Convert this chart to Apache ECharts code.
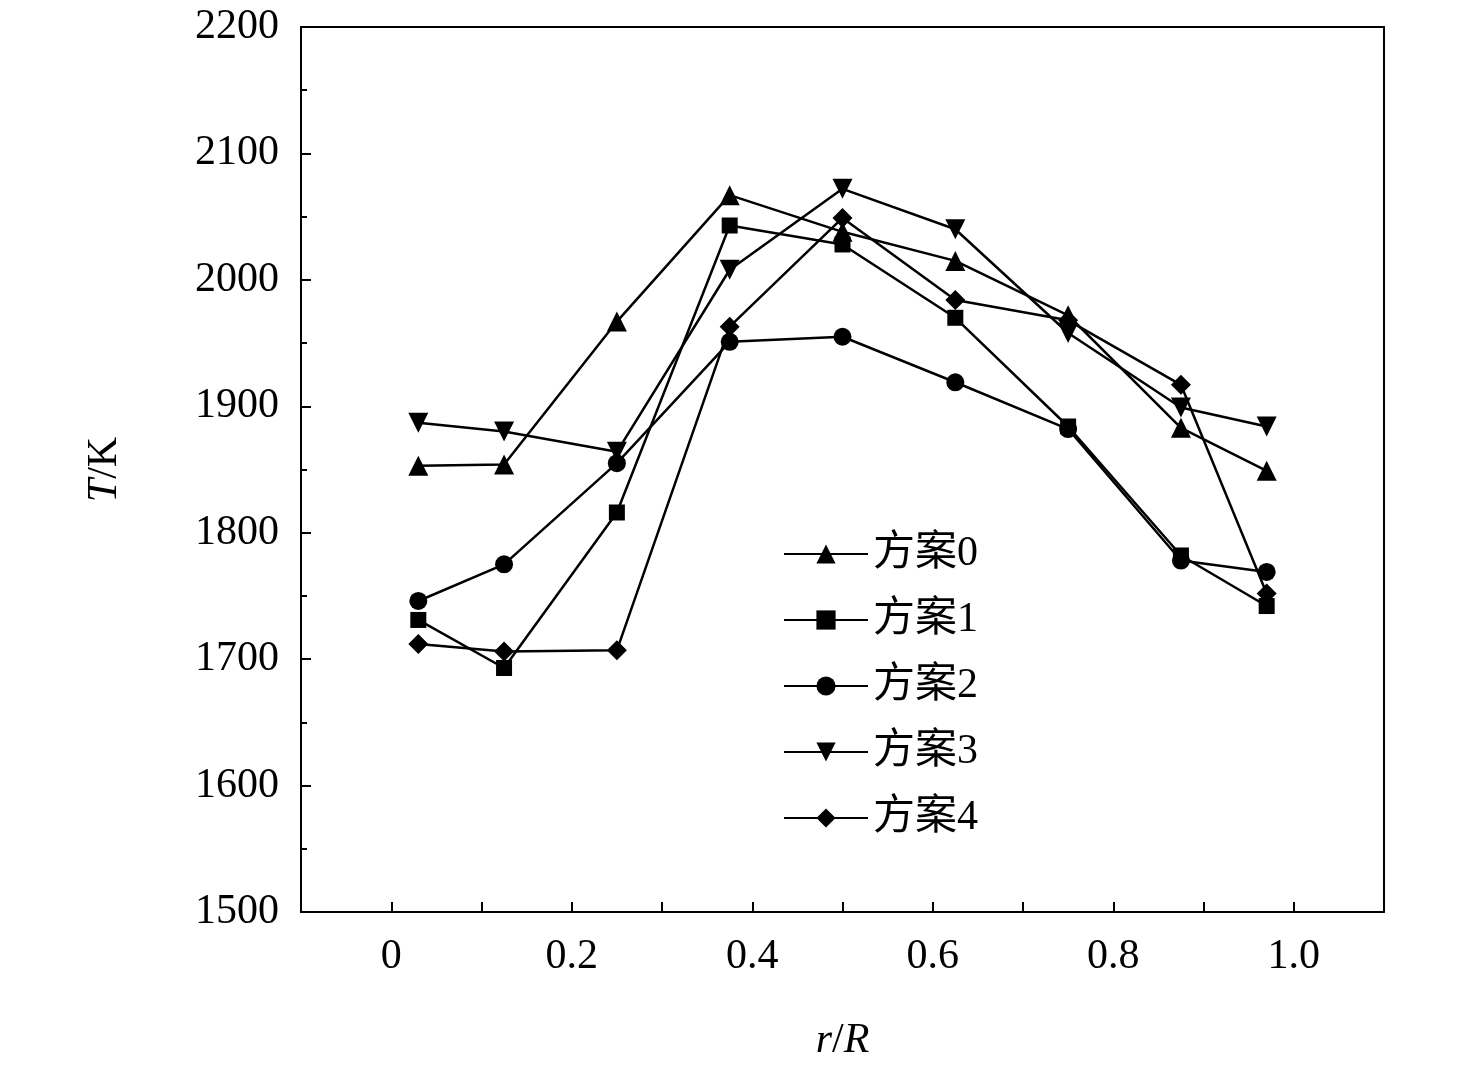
<!DOCTYPE html>
<html><head><meta charset="utf-8">
<script src="https://cdn.jsdelivr.net/npm/echarts@6/dist/echarts.min.js"></script>
<style>html,body{margin:0;background:#fff}#c{width:1476px;height:1071px}</style>
</head><body><div id="c"></div>
<script>
var xs = [0.03, 0.125, 0.25, 0.375, 0.5, 0.625, 0.75, 0.875, 0.97];
var names = ['方案0', '方案1', '方案2', '方案3', '方案4'];
var s0 = [1853, 1854, 1967, 2067, 2038, 2015, 1972, 1883, 1849];
var s1 = [1731, 1693, 1816, 2043, 2028, 1970, 1884, 1782, 1742];
var s2 = [1746, 1775, 1855, 1951, 1955, 1919, 1882, 1778, 1769];
var s3 = [1887, 1880, 1864, 2008, 2072, 2040, 1958, 1899, 1884];
var s4 = [1712, 1706, 1707, 1963, 2049, 1984, 1968, 1917, 1752];
var symbols = ['triangle', 'rect', 'circle', 'triangle', 'diamond'];
var rot = [0, 0, 0, 180, 0];
var sizes = [20, 16, 18, 20, 20];

var serif = '"Liberation Serif","Times New Roman",serif';
var all = [s0, s1, s2, s3, s4];
var series = all.map(function (s, i) {
  return {
    name: names[i], type: 'line', data: s.map(function (v, j) { return [xs[j], v]; }),
    symbol: symbols[i], symbolRotate: rot[i], symbolSize: sizes[i],
    lineStyle: {color: '#000', width: 2.5}, itemStyle: {color: '#000'}
  };
});
var chart = echarts.init(document.getElementById('c'));
chart.setOption({
  animation: false,
  grid: {left: 301, right: 92, top: 27, bottom: 159},
  legend: {
    orient: 'vertical', left: 778, top: 528, itemWidth: 84, itemHeight: 24, itemGap: 24,
    textStyle: {fontFamily: '"Liberation Serif","Noto Sans CJK SC",serif', fontSize: 42, color: '#000'},
    data: names
  },
  xAxis: [{
    type: 'value', min: -0.1, max: 1.1, interval: 0.1,
    name: '{i|r}/{i|R}', nameLocation: 'middle', nameGap: 108,
    nameTextStyle: {fontFamily: serif, fontSize: 42, color: '#000', rich: {i: {fontStyle: 'italic', fontFamily: serif, fontSize: 42}}},
    axisLine: {onZero: false, lineStyle: {color: '#000', width: 2}},
    axisTick: {inside: true, length: 10, lineStyle: {color: '#000', width: 2}},
    splitLine: {show: false},
    axisLabel: {fontFamily: serif, fontSize: 42, color: '#000', margin: 24,
      formatter: function (v) {
        var r = Math.round(v * 10);
        if (r < 0 || r % 2) return '';
        return r === 0 ? '0' : (r / 10).toFixed(1);
      }}
  }, {
    type: 'value', position: 'top', min: -0.1, max: 1.1,
    axisLine: {onZero: false, lineStyle: {color: '#000', width: 2}}, axisTick: {show: false}, axisLabel: {show: false}, splitLine: {show: false}
  }],
  yAxis: [{
    type: 'value', min: 1500, max: 2200, interval: 100,
    name: '{i|T}/K', nameLocation: 'middle', nameGap: 175, nameRotate: 90,
    nameTextStyle: {fontFamily: serif, fontSize: 42, color: '#000', rich: {i: {fontStyle: 'italic', fontFamily: serif, fontSize: 42}}},
    axisLine: {show: true, onZero: false, lineStyle: {color: '#000', width: 2}},
    axisTick: {inside: true, length: 10, lineStyle: {color: '#000', width: 2}},
    minorTick: {show: true, splitNumber: 2, length: 6, lineStyle: {color: '#000', width: 2}},
    splitLine: {show: false},
    axisLabel: {fontFamily: serif, fontSize: 42, color: '#000', margin: 22, formatter: function (v) { return String(v); }}
  }, {
    type: 'value', position: 'right', min: 1500, max: 2200,
    axisLine: {show: true, onZero: false, lineStyle: {color: '#000', width: 2}}, axisTick: {show: false}, axisLabel: {show: false}, splitLine: {show: false}
  }],
  series: series
});
</script></body></html>
